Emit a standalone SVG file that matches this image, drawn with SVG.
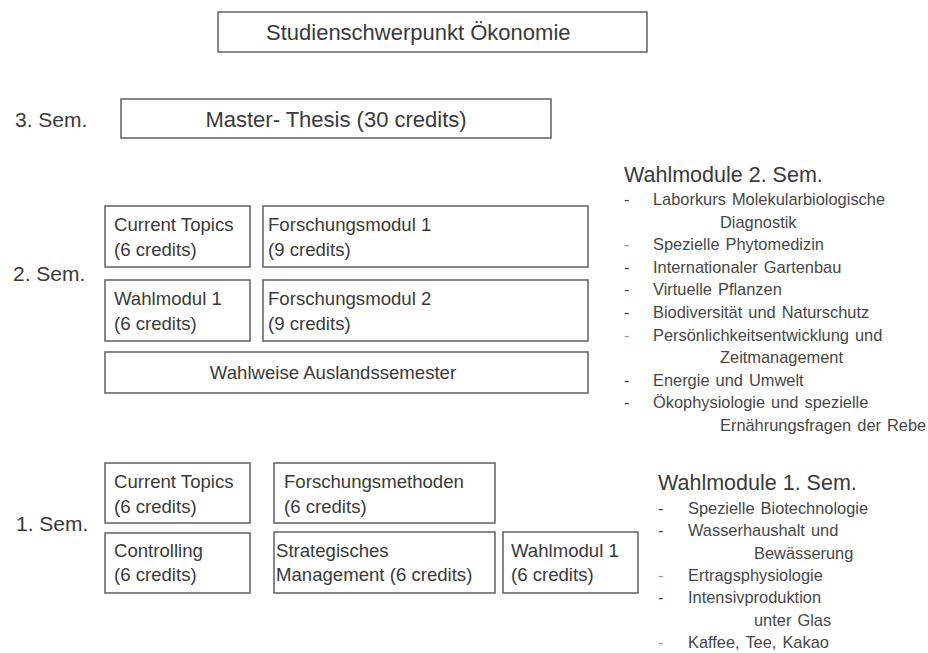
<svg xmlns="http://www.w3.org/2000/svg" width="928" height="653" viewBox="0 0 928 653">
<style>
  text { font-family: "Liberation Sans", Arial, sans-serif; fill: #3a3a3a; }
  .box { fill: #ffffff; stroke: #6a6a6a; stroke-width: 1.6; }
  .big { font-size: 22px; }
  .sem { font-size: 21px; }
  .mod { font-size: 18.6px; }
  .head { font-size: 21.5px; }
  .item { font-size: 16.4px; fill: #474747; word-spacing: 1.5px; }
  .dash { font-size: 16.4px; fill: #474747; }
  .dash.light { fill: #9a9a9a; }
</style>
<rect width="928" height="653" fill="#ffffff"/>

<g id="title">
  <rect class="box" x="218" y="12" width="429" height="40"/>
  <text class="big" x="266" y="40">Studienschwerpunkt Ökonomie</text>
</g>

<g id="sem3-label"><text class="sem" x="15" y="127">3. Sem.</text></g>
<g id="master-thesis">
  <rect class="box" x="121" y="99" width="430" height="39"/>
  <text class="big" x="336" y="127" text-anchor="middle">Master- Thesis (30 credits)</text>
</g>

<g id="sem2-label"><text class="sem" x="13" y="281">2. Sem.</text></g>
<g id="sem2-current-topics">
  <rect class="box" x="105" y="206" width="145" height="61"/>
  <text class="mod" x="114" y="231">Current Topics</text>
  <text class="mod" x="114" y="256">(6 credits)</text>
</g>
<g id="sem2-forschungsmodul1">
  <rect class="box" x="263" y="206" width="325" height="61"/>
  <text class="mod" x="268" y="231">Forschungsmodul 1</text>
  <text class="mod" x="268" y="256">(9 credits)</text>
</g>
<g id="sem2-wahlmodul1">
  <rect class="box" x="105" y="280" width="145" height="61"/>
  <text class="mod" x="114" y="305">Wahlmodul 1</text>
  <text class="mod" x="114" y="330">(6 credits)</text>
</g>
<g id="sem2-forschungsmodul2">
  <rect class="box" x="263" y="280" width="325" height="61"/>
  <text class="mod" x="268" y="305">Forschungsmodul 2</text>
  <text class="mod" x="268" y="330">(9 credits)</text>
</g>
<g id="sem2-ausland">
  <rect class="box" x="105" y="352" width="483" height="41"/>
  <text class="mod" x="333" y="379" text-anchor="middle">Wahlweise Auslandssemester</text>
</g>

<g id="sem1-label"><text class="sem" x="16" y="531">1. Sem.</text></g>
<g id="sem1-current-topics">
  <rect class="box" x="105" y="463" width="145" height="60"/>
  <text class="mod" x="114" y="488">Current Topics</text>
  <text class="mod" x="114" y="513">(6 credits)</text>
</g>
<g id="sem1-forschungsmethoden">
  <rect class="box" x="274" y="463" width="221" height="60"/>
  <text class="mod" x="284" y="488">Forschungsmethoden</text>
  <text class="mod" x="284" y="513">(6 credits)</text>
</g>
<g id="sem1-controlling">
  <rect class="box" x="105" y="533" width="145" height="60"/>
  <text class="mod" x="114" y="557">Controlling</text>
  <text class="mod" x="114" y="581">(6 credits)</text>
</g>
<g id="sem1-strategisches-management">
  <rect class="box" x="274" y="532" width="221" height="61"/>
  <text class="mod" x="276" y="557">Strategisches</text>
  <text class="mod" x="276" y="581">Management (6 credits)</text>
</g>
<g id="sem1-wahlmodul1">
  <rect class="box" x="503" y="532" width="135" height="61"/>
  <text class="mod" x="511" y="557">Wahlmodul 1</text>
  <text class="mod" x="511" y="581">(6 credits)</text>
</g>

<g id="wahlmodule-sem2">
  <text class="head" x="624" y="182">Wahlmodule 2. Sem.</text>
  <text class="dash" x="624" y="205">-</text>
  <text class="item" x="653" y="205">Laborkurs Molekularbiologische</text>
  <text class="item" x="720" y="228">Diagnostik</text>
  <text class="dash light" x="624" y="250">-</text>
  <text class="item" x="653" y="250">Spezielle Phytomedizin</text>
  <text class="dash" x="624" y="273">-</text>
  <text class="item" x="653" y="273">Internationaler Gartenbau</text>
  <text class="dash" x="624" y="295">-</text>
  <text class="item" x="653" y="295">Virtuelle Pflanzen</text>
  <text class="dash" x="624" y="318">-</text>
  <text class="item" x="653" y="318">Biodiversität und Naturschutz</text>
  <text class="dash light" x="624" y="341">-</text>
  <text class="item" x="653" y="341">Persönlichkeitsentwicklung und</text>
  <text class="item" x="720" y="363">Zeitmanagement</text>
  <text class="dash" x="624" y="386">-</text>
  <text class="item" x="653" y="386">Energie und Umwelt</text>
  <text class="dash" x="624" y="408">-</text>
  <text class="item" x="653" y="408">Ökophysiologie und spezielle</text>
  <text class="item" x="720" y="431">Ernährungsfragen der Rebe</text>
</g>

<g id="wahlmodule-sem1">
  <text class="head" x="658" y="490">Wahlmodule 1. Sem.</text>
  <text class="dash" x="658" y="514">-</text>
  <text class="item" x="688" y="514">Spezielle Biotechnologie</text>
  <text class="dash" x="658" y="536">-</text>
  <text class="item" x="688" y="536">Wasserhaushalt und</text>
  <text class="item" x="754" y="559">Bewässerung</text>
  <text class="dash light" x="658" y="581">-</text>
  <text class="item" x="688" y="581">Ertragsphysiologie</text>
  <text class="dash" x="658" y="603">-</text>
  <text class="item" x="688" y="603">Intensivproduktion</text>
  <text class="item" x="754" y="626">unter Glas</text>
  <text class="dash light" x="658" y="648">-</text>
  <text class="item" x="688" y="648">Kaffee, Tee, Kakao</text>
</g>

<g id="connectors"></g>
</svg>
